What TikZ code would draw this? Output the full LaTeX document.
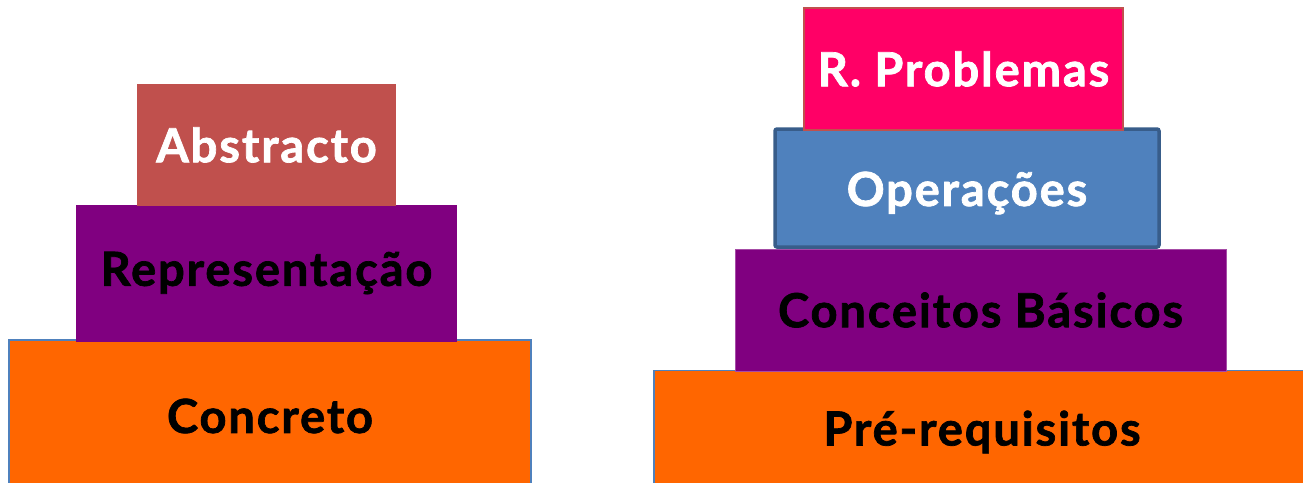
\documentclass[tikz,border=0pt]{standalone}
\usepackage{fontspec}
\setmainfont{Lato}[LetterSpace=4,BoldFeatures={FakeBold=1.5}]
\definecolor{cabs}{HTML}{C0504D}
\definecolor{cpur}{HTML}{800080}
\definecolor{corg}{HTML}{FF6600}
\definecolor{cblu}{HTML}{4F81BD}
\definecolor{cbld}{HTML}{385D8A}
\definecolor{cpnk}{HTML}{FF0066}
\tikzset{
  blk/.style={rectangle, inner sep=0pt, font=\fontsize{47}{50}\selectfont\bfseries},
  wtxt/.style={text=white},
  ktxt/.style={text=black},
}
\begin{document}
\begin{tikzpicture}[x=1pt,y=-1pt]
\useasboundingbox (0,0) rectangle (1303,482);
% left stack
\node[blk, ktxt, fill=corg, draw=cblu, line width=1.5pt, minimum width=522pt, minimum height=152pt] (conc) at (270,416) {Concreto};
\node[blk, ktxt, fill=cpur, minimum width=381pt, minimum height=137pt] (repr) at (266.5,273) {Representação};
\node[blk, wtxt, fill=cabs, minimum width=259pt, minimum height=122pt] (abst) at (266.5,145) {Abstracto};
% right stack
\node[blk, ktxt, fill=corg, draw=cblu, line width=1.5pt, minimum width=656pt, minimum height=123pt] (prer) at (982,432) {Pré-requisitos};
\node[blk, ktxt, fill=cpur, draw=cpur!70!white, line width=0.8pt, minimum width=491pt, minimum height=122pt] (conc2) at (980.5,310) {Conceitos Básicos};
\node[blk, wtxt, fill=cblu, draw=cbld, line width=3.5pt, rounded corners=2pt, minimum width=384pt, minimum height=118pt, text depth=0pt, text height=0pt] (oper) at (967,188) {};
\node[blk, wtxt] (opertxt) at (967,193) {Operações};
\node[blk, wtxt, fill=cpnk, draw=cabs, line width=1.5pt, minimum width=319pt, minimum height=122pt] (rprob) at (963.5,69) {R. Problemas};
\end{tikzpicture}
\end{document}
